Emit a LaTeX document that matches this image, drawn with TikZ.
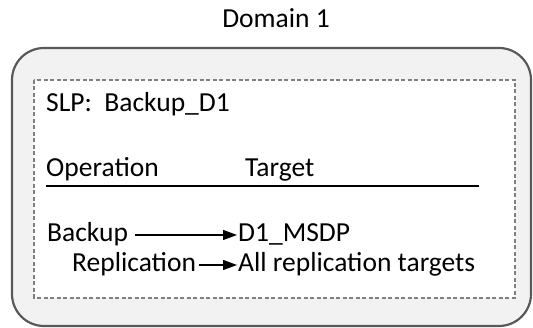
\documentclass[tikz,border=0pt]{standalone}
\usepackage{fontspec}
\setmainfont{Carlito}
\usetikzlibrary{arrows.meta,calc}
\definecolor{outerfill}{HTML}{F2F2F2}
\definecolor{outerline}{HTML}{595959}
\definecolor{dashline}{HTML}{808080}
\tikzset{
  txt/.style={inner sep=0pt, anchor=base west, font=\fontsize{27.5pt}{32pt}\selectfont, text=black},
  outerbox/.style={draw=outerline, line width=2.2pt, fill=outerfill, rounded corners=32pt},
  innerbox/.style={draw=dashline, line width=1.8pt, fill=white, dash pattern=on 4pt off 2.5pt},
  arr/.style={line width=1.3pt, -{Triangle[length=14pt,width=10pt]}},
  rule/.style={line width=1.4pt}
}
\begin{document}
\begin{tikzpicture}[x=1pt,y=-1pt]
\useasboundingbox (0,0) rectangle (533,328);
\node[txt, anchor=base] (title) at (276,28) {Domain 1};
\draw[outerbox] (12,48) rectangle (531,326);
\draw[innerbox] (34,80) rectangle (515,298);
\node[txt] (slp) at (46,112) {SLP:\ \ Backup\_D1};
\node[txt] (op) at (46,177) {Operation};
\node[txt] (tg) at (245,177) {Target};
\coordinate (ruleL) at (46,186);
\coordinate (ruleR) at (479,186);
\draw[rule] (ruleL) -- (ruleR);
\node[txt] (bk) at (47,242) {Backup};
\node[txt] (d1) at (238,242) {D1\_MSDP};
\node[txt] (rp) at (72,272) {Replication};
\node[txt] (all) at (238,272) {All replication targets};
\draw[arr] ($(bk.base east)+(7,-7)$) -- ($(d1.base west)+(-1,-7)$);
\draw[arr] ($(rp.base east)+(3,-7)$) -- ($(all.base west)+(-1,-7)$);
\end{tikzpicture}
\end{document}
